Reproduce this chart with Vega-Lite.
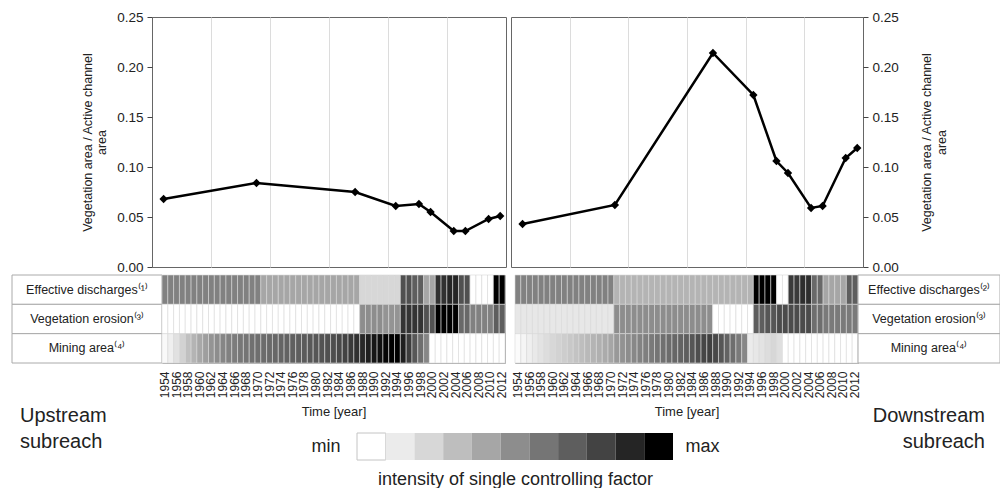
{
  "$schema": "https://vega.github.io/schema/vega-lite/v6.json",
  "padding": {"left": 0, "top": 9, "right": 0, "bottom": 0},
  "config": {
    "view": {"stroke": null},
    "font": "Liberation Sans",
    "axis": {"labelColor": "#222", "titleColor": "#222", "tickColor": "#444"},
    "title": {"color": "#222"}
  },
  "datasets": {
    "ul": [{"year":1954,"ratio":0.068},{"year":1970,"ratio":0.084},{"year":1987,"ratio":0.075},{"year":1994,"ratio":0.061},{"year":1998,"ratio":0.063},{"year":2000,"ratio":0.055},{"year":2004,"ratio":0.036},{"year":2006,"ratio":0.036},{"year":2010,"ratio":0.048},{"year":2012,"ratio":0.051}],
    "dl": [{"year":1954,"ratio":0.043},{"year":1970,"ratio":0.062},{"year":1987,"ratio":0.214},{"year":1994,"ratio":0.172},{"year":1998,"ratio":0.106},{"year":2000,"ratio":0.094},{"year":2004,"ratio":0.059},{"year":2006,"ratio":0.061},{"year":2010,"ratio":0.109},{"year":2012,"ratio":0.119}],
    "lblL": [{"k":"a","label":"Effective discharges⁽¹⁾"},{"k":"b","label":"Vegetation erosion⁽³⁾"},{"k":"c","label":"Mining area⁽⁴⁾"}],
    "lblR": [{"k":"a","label":"Effective discharges⁽²⁾"},{"k":"b","label":"Vegetation erosion⁽³⁾"},{"k":"c","label":"Mining area⁽⁴⁾"}],
    "lev": [{"level":0},{"level":1},{"level":2},{"level":3},{"level":4},{"level":5},{"level":6},{"level":7},{"level":8},{"level":9},{"level":10}],
    "hl": [
      {"yr":1954,"f":"a","v":5.5},{"yr":1955,"f":"a","v":5.5},{"yr":1956,"f":"a","v":5.5},{"yr":1957,"f":"a","v":5.5},{"yr":1958,"f":"a","v":5.5},{"yr":1959,"f":"a","v":5.5},{"yr":1960,"f":"a","v":5.5},{"yr":1961,"f":"a","v":5.5},{"yr":1962,"f":"a","v":5.5},{"yr":1963,"f":"a","v":5.5},{"yr":1964,"f":"a","v":5.5},{"yr":1965,"f":"a","v":5.5},{"yr":1966,"f":"a","v":5.5},{"yr":1967,"f":"a","v":5.5},{"yr":1968,"f":"a","v":5.5},{"yr":1969,"f":"a","v":5.5},{"yr":1970,"f":"a","v":5.5},
      {"yr":1971,"f":"a","v":4},{"yr":1972,"f":"a","v":4},{"yr":1973,"f":"a","v":4},{"yr":1974,"f":"a","v":4},{"yr":1975,"f":"a","v":4},{"yr":1976,"f":"a","v":4},{"yr":1977,"f":"a","v":4},{"yr":1978,"f":"a","v":4},{"yr":1979,"f":"a","v":4},{"yr":1980,"f":"a","v":4},{"yr":1981,"f":"a","v":4},{"yr":1982,"f":"a","v":4},{"yr":1983,"f":"a","v":4},{"yr":1984,"f":"a","v":4},{"yr":1985,"f":"a","v":4},{"yr":1986,"f":"a","v":4},{"yr":1987,"f":"a","v":4},
      {"yr":1988,"f":"a","v":2},{"yr":1989,"f":"a","v":2},{"yr":1990,"f":"a","v":2},{"yr":1991,"f":"a","v":2},{"yr":1992,"f":"a","v":2},{"yr":1993,"f":"a","v":2},{"yr":1994,"f":"a","v":2},
      {"yr":1995,"f":"a","v":7.5},{"yr":1996,"f":"a","v":7.5},{"yr":1997,"f":"a","v":7},{"yr":1998,"f":"a","v":7},{"yr":1999,"f":"a","v":4},{"yr":2000,"f":"a","v":4},{"yr":2001,"f":"a","v":8.6},{"yr":2002,"f":"a","v":8.6},{"yr":2003,"f":"a","v":9},{"yr":2004,"f":"a","v":9},{"yr":2005,"f":"a","v":7.5},{"yr":2006,"f":"a","v":7.5},{"yr":2007,"f":"a","v":0},{"yr":2008,"f":"a","v":0},{"yr":2009,"f":"a","v":0},{"yr":2010,"f":"a","v":0},{"yr":2011,"f":"a","v":10},{"yr":2012,"f":"a","v":10},
      {"yr":1954,"f":"b","v":0},{"yr":1955,"f":"b","v":0},{"yr":1956,"f":"b","v":0},{"yr":1957,"f":"b","v":0},{"yr":1958,"f":"b","v":0},{"yr":1959,"f":"b","v":0},{"yr":1960,"f":"b","v":0},{"yr":1961,"f":"b","v":0},{"yr":1962,"f":"b","v":0},{"yr":1963,"f":"b","v":0},{"yr":1964,"f":"b","v":0},{"yr":1965,"f":"b","v":0},{"yr":1966,"f":"b","v":0},{"yr":1967,"f":"b","v":0},{"yr":1968,"f":"b","v":0},{"yr":1969,"f":"b","v":0},{"yr":1970,"f":"b","v":0},{"yr":1971,"f":"b","v":0},{"yr":1972,"f":"b","v":0},{"yr":1973,"f":"b","v":0},{"yr":1974,"f":"b","v":0},{"yr":1975,"f":"b","v":0},{"yr":1976,"f":"b","v":0},{"yr":1977,"f":"b","v":0},{"yr":1978,"f":"b","v":0},{"yr":1979,"f":"b","v":0},{"yr":1980,"f":"b","v":0},{"yr":1981,"f":"b","v":0},{"yr":1982,"f":"b","v":0},{"yr":1983,"f":"b","v":0},{"yr":1984,"f":"b","v":0},{"yr":1985,"f":"b","v":0},{"yr":1986,"f":"b","v":0},{"yr":1987,"f":"b","v":0},
      {"yr":1988,"f":"b","v":5},{"yr":1989,"f":"b","v":5},{"yr":1990,"f":"b","v":5},{"yr":1991,"f":"b","v":5},{"yr":1992,"f":"b","v":4.7},{"yr":1993,"f":"b","v":4.7},{"yr":1994,"f":"b","v":4.7},
      {"yr":1995,"f":"b","v":8.5},{"yr":1996,"f":"b","v":8.5},{"yr":1997,"f":"b","v":8.5},{"yr":1998,"f":"b","v":8.5},{"yr":1999,"f":"b","v":7.4},{"yr":2000,"f":"b","v":7.4},{"yr":2001,"f":"b","v":10},{"yr":2002,"f":"b","v":10},{"yr":2003,"f":"b","v":10},{"yr":2004,"f":"b","v":10},{"yr":2005,"f":"b","v":6.5},{"yr":2006,"f":"b","v":6.5},{"yr":2007,"f":"b","v":5.5},{"yr":2008,"f":"b","v":5.5},{"yr":2009,"f":"b","v":5.5},{"yr":2010,"f":"b","v":5.5},{"yr":2011,"f":"b","v":7},{"yr":2012,"f":"b","v":7},
      {"yr":1954,"f":"c","v":0.3},{"yr":1955,"f":"c","v":0.8},{"yr":1956,"f":"c","v":1.5},{"yr":1957,"f":"c","v":2.2},{"yr":1958,"f":"c","v":2.9},{"yr":1959,"f":"c","v":3.4},{"yr":1960,"f":"c","v":3.9},{"yr":1961,"f":"c","v":4.3},{"yr":1962,"f":"c","v":4.7},{"yr":1963,"f":"c","v":5.0},{"yr":1964,"f":"c","v":5.3},{"yr":1965,"f":"c","v":5.5},{"yr":1966,"f":"c","v":5.7},{"yr":1967,"f":"c","v":5.9},{"yr":1968,"f":"c","v":6.0},{"yr":1969,"f":"c","v":6.2},{"yr":1970,"f":"c","v":6.3},{"yr":1971,"f":"c","v":6.4},{"yr":1972,"f":"c","v":6.5},{"yr":1973,"f":"c","v":6.6},{"yr":1974,"f":"c","v":6.7},{"yr":1975,"f":"c","v":6.8},{"yr":1976,"f":"c","v":6.9},{"yr":1977,"f":"c","v":7.0},{"yr":1978,"f":"c","v":7.1},{"yr":1979,"f":"c","v":7.2},{"yr":1980,"f":"c","v":7.3},{"yr":1981,"f":"c","v":7.4},{"yr":1982,"f":"c","v":7.5},{"yr":1983,"f":"c","v":7.6},{"yr":1984,"f":"c","v":7.8},{"yr":1985,"f":"c","v":8.0},{"yr":1986,"f":"c","v":8.3},{"yr":1987,"f":"c","v":8.6},{"yr":1988,"f":"c","v":8.9},{"yr":1989,"f":"c","v":9.2},{"yr":1990,"f":"c","v":9.5},{"yr":1991,"f":"c","v":9.7},{"yr":1992,"f":"c","v":9.9},{"yr":1993,"f":"c","v":10},{"yr":1994,"f":"c","v":10},{"yr":1995,"f":"c","v":9.2},{"yr":1996,"f":"c","v":8.2},{"yr":1997,"f":"c","v":7.2},{"yr":1998,"f":"c","v":6.3},{"yr":1999,"f":"c","v":5.3},
      {"yr":2000,"f":"c","v":0},{"yr":2001,"f":"c","v":0},{"yr":2002,"f":"c","v":0},{"yr":2003,"f":"c","v":0},{"yr":2004,"f":"c","v":0},{"yr":2005,"f":"c","v":0},{"yr":2006,"f":"c","v":0},{"yr":2007,"f":"c","v":0},{"yr":2008,"f":"c","v":0},{"yr":2009,"f":"c","v":0},{"yr":2010,"f":"c","v":0},{"yr":2011,"f":"c","v":0},{"yr":2012,"f":"c","v":0}
    ],
    "hr": [
      {"yr":1954,"f":"a","v":5.5},{"yr":1955,"f":"a","v":5.5},{"yr":1956,"f":"a","v":5.5},{"yr":1957,"f":"a","v":5.5},{"yr":1958,"f":"a","v":5.5},{"yr":1959,"f":"a","v":5.5},{"yr":1960,"f":"a","v":5.5},{"yr":1961,"f":"a","v":5.5},{"yr":1962,"f":"a","v":5.5},{"yr":1963,"f":"a","v":5.5},{"yr":1964,"f":"a","v":5.5},{"yr":1965,"f":"a","v":5.5},{"yr":1966,"f":"a","v":5.5},{"yr":1967,"f":"a","v":5.5},{"yr":1968,"f":"a","v":5.5},{"yr":1969,"f":"a","v":5.5},{"yr":1970,"f":"a","v":5.5},
      {"yr":1971,"f":"a","v":3.4},{"yr":1972,"f":"a","v":3.4},{"yr":1973,"f":"a","v":3.4},{"yr":1974,"f":"a","v":3.4},{"yr":1975,"f":"a","v":3.4},{"yr":1976,"f":"a","v":3.4},{"yr":1977,"f":"a","v":3.4},{"yr":1978,"f":"a","v":3.4},{"yr":1979,"f":"a","v":3.4},{"yr":1980,"f":"a","v":3.4},{"yr":1981,"f":"a","v":3.4},{"yr":1982,"f":"a","v":3.4},{"yr":1983,"f":"a","v":3.4},{"yr":1984,"f":"a","v":3.4},{"yr":1985,"f":"a","v":3.4},{"yr":1986,"f":"a","v":3.4},{"yr":1987,"f":"a","v":3.4},{"yr":1988,"f":"a","v":3.4},{"yr":1989,"f":"a","v":3.4},{"yr":1990,"f":"a","v":3.4},{"yr":1991,"f":"a","v":3.4},{"yr":1992,"f":"a","v":3.4},{"yr":1993,"f":"a","v":3.4},{"yr":1994,"f":"a","v":3.4},
      {"yr":1995,"f":"a","v":10},{"yr":1996,"f":"a","v":10},{"yr":1997,"f":"a","v":10},{"yr":1998,"f":"a","v":10},{"yr":1999,"f":"a","v":0},{"yr":2000,"f":"a","v":0},{"yr":2001,"f":"a","v":8.3},{"yr":2002,"f":"a","v":8.3},{"yr":2003,"f":"a","v":8.7},{"yr":2004,"f":"a","v":8.7},{"yr":2005,"f":"a","v":6.5},{"yr":2006,"f":"a","v":6.5},{"yr":2007,"f":"a","v":4},{"yr":2008,"f":"a","v":4},{"yr":2009,"f":"a","v":4},{"yr":2010,"f":"a","v":4},{"yr":2011,"f":"a","v":7},{"yr":2012,"f":"a","v":7},
      {"yr":1954,"f":"b","v":1.2},{"yr":1955,"f":"b","v":1.2},{"yr":1956,"f":"b","v":1.2},{"yr":1957,"f":"b","v":1.2},{"yr":1958,"f":"b","v":1.2},{"yr":1959,"f":"b","v":1.2},{"yr":1960,"f":"b","v":1.2},{"yr":1961,"f":"b","v":1.2},{"yr":1962,"f":"b","v":1.2},{"yr":1963,"f":"b","v":1.2},{"yr":1964,"f":"b","v":1.2},{"yr":1965,"f":"b","v":1.2},{"yr":1966,"f":"b","v":1.2},{"yr":1967,"f":"b","v":1.2},{"yr":1968,"f":"b","v":1.2},{"yr":1969,"f":"b","v":1.2},{"yr":1970,"f":"b","v":1.2},
      {"yr":1971,"f":"b","v":5},{"yr":1972,"f":"b","v":5},{"yr":1973,"f":"b","v":5},{"yr":1974,"f":"b","v":5},{"yr":1975,"f":"b","v":5},{"yr":1976,"f":"b","v":5},{"yr":1977,"f":"b","v":5},{"yr":1978,"f":"b","v":5},{"yr":1979,"f":"b","v":5},{"yr":1980,"f":"b","v":5},{"yr":1981,"f":"b","v":5},{"yr":1982,"f":"b","v":5},{"yr":1983,"f":"b","v":5},{"yr":1984,"f":"b","v":5},{"yr":1985,"f":"b","v":5},{"yr":1986,"f":"b","v":5},{"yr":1987,"f":"b","v":5},
      {"yr":1988,"f":"b","v":0},{"yr":1989,"f":"b","v":0},{"yr":1990,"f":"b","v":0},{"yr":1991,"f":"b","v":0},{"yr":1992,"f":"b","v":0},{"yr":1993,"f":"b","v":0},{"yr":1994,"f":"b","v":0},
      {"yr":1995,"f":"b","v":7},{"yr":1996,"f":"b","v":7},{"yr":1997,"f":"b","v":7.3},{"yr":1998,"f":"b","v":7.3},{"yr":1999,"f":"b","v":7.7},{"yr":2000,"f":"b","v":7.7},{"yr":2001,"f":"b","v":7.7},{"yr":2002,"f":"b","v":7.7},{"yr":2003,"f":"b","v":7.7},{"yr":2004,"f":"b","v":7.7},{"yr":2005,"f":"b","v":6.3},{"yr":2006,"f":"b","v":6.3},{"yr":2007,"f":"b","v":5.8},{"yr":2008,"f":"b","v":5.8},{"yr":2009,"f":"b","v":5.8},{"yr":2010,"f":"b","v":5.8},{"yr":2011,"f":"b","v":5.8},{"yr":2012,"f":"b","v":5.8},
      {"yr":1954,"f":"c","v":0.2},{"yr":1955,"f":"c","v":0.5},{"yr":1956,"f":"c","v":0.8},{"yr":1957,"f":"c","v":1.1},{"yr":1958,"f":"c","v":1.4},{"yr":1959,"f":"c","v":1.7},{"yr":1960,"f":"c","v":2.0},{"yr":1961,"f":"c","v":2.2},{"yr":1962,"f":"c","v":2.4},{"yr":1963,"f":"c","v":2.6},{"yr":1964,"f":"c","v":2.8},{"yr":1965,"f":"c","v":3.0},{"yr":1966,"f":"c","v":3.2},{"yr":1967,"f":"c","v":3.4},{"yr":1968,"f":"c","v":3.6},{"yr":1969,"f":"c","v":3.8},{"yr":1970,"f":"c","v":4.0},{"yr":1971,"f":"c","v":4.5},{"yr":1972,"f":"c","v":4.8},{"yr":1973,"f":"c","v":5.0},{"yr":1974,"f":"c","v":5.2},{"yr":1975,"f":"c","v":5.4},{"yr":1976,"f":"c","v":5.6},{"yr":1977,"f":"c","v":5.8},{"yr":1978,"f":"c","v":6.0},{"yr":1979,"f":"c","v":6.2},{"yr":1980,"f":"c","v":6.4},{"yr":1981,"f":"c","v":6.6},{"yr":1982,"f":"c","v":6.8},{"yr":1983,"f":"c","v":7.0},{"yr":1984,"f":"c","v":7.3},{"yr":1985,"f":"c","v":7.6},{"yr":1986,"f":"c","v":7.9},{"yr":1987,"f":"c","v":8.1},{"yr":1988,"f":"c","v":7.8},{"yr":1989,"f":"c","v":7.3},{"yr":1990,"f":"c","v":6.8},{"yr":1991,"f":"c","v":6.3},{"yr":1992,"f":"c","v":5.8},{"yr":1993,"f":"c","v":5.3},{"yr":1994,"f":"c","v":1.0},{"yr":1995,"f":"c","v":1.2},{"yr":1996,"f":"c","v":1.4},{"yr":1997,"f":"c","v":1.7},{"yr":1998,"f":"c","v":2.0},{"yr":1999,"f":"c","v":1.6},
      {"yr":2000,"f":"c","v":0},{"yr":2001,"f":"c","v":0},{"yr":2002,"f":"c","v":0},{"yr":2003,"f":"c","v":0},{"yr":2004,"f":"c","v":0},{"yr":2005,"f":"c","v":0},{"yr":2006,"f":"c","v":0},{"yr":2007,"f":"c","v":0},{"yr":2008,"f":"c","v":0},{"yr":2009,"f":"c","v":0},{"yr":2010,"f":"c","v":0},{"yr":2011,"f":"c","v":0},{"yr":2012,"f":"c","v":0}
    ]
  },
  "spacing": 6,
  "vconcat": [
    {
      "spacing": 0,
      "vconcat": [
        {
          "spacing": 0,
          "bounds": "flush",
          "hconcat": [
            {"width": 152, "height": 250, "data": {"values": []}, "mark": "rect", "encoding": {}},
            {
              "width": 354, "height": 250,
              "data": {"name": "ul"},
              "view": {"stroke": "#666", "strokeWidth": 1},
              "encoding": {
                "x": {"field": "year", "type": "quantitative", "scale": {"domain": [1952, 2013], "nice": false, "zero": false},
                      "axis": {"values": [1962.1667, 1972.3333, 1982.5, 1992.6667, 2002.8333], "grid": true, "gridColor": "#dcdcdc", "labels": false, "ticks": false, "domain": false, "title": null}},
                "y": {"field": "ratio", "type": "quantitative", "scale": {"domain": [0, 0.25], "nice": false},
                      "axis": {"values": [0, 0.05, 0.1, 0.15, 0.2, 0.25], "format": ".2f", "grid": false, "domain": false, "tickSize": 5, "labelFontSize": 13.5, "labelPadding": 4,
                               "title": ["Vegetation area / Active channel", "area"], "titleFontSize": 12.5, "titleFontWeight": "normal", "titlePadding": 8}}
              },
              "layer": [
                {"mark": {"type": "line", "color": "black", "strokeWidth": 2.5}},
                {"mark": {"type": "point", "shape": "diamond", "filled": true, "color": "black", "size": 70, "opacity": 1}}
              ]
            },
            {"width": 5, "height": 250, "data": {"values": []}, "mark": "rect", "encoding": {}},
            {
              "width": 352, "height": 250,
              "data": {"name": "dl"},
              "view": {"stroke": "#666", "strokeWidth": 1},
              "encoding": {
                "x": {"field": "year", "type": "quantitative", "scale": {"domain": [1952, 2013], "nice": false, "zero": false},
                      "axis": {"values": [1962.1667, 1972.3333, 1982.5, 1992.6667, 2002.8333], "grid": true, "gridColor": "#dcdcdc", "labels": false, "ticks": false, "domain": false, "title": null}},
                "y": {"field": "ratio", "type": "quantitative", "scale": {"domain": [0, 0.25], "nice": false},
                      "axis": {"orient": "right", "values": [0, 0.05, 0.1, 0.15, 0.2, 0.25], "format": ".2f", "grid": false, "domain": false, "tickSize": 5, "labelFontSize": 13.5, "labelPadding": 4,
                               "title": ["Vegetation area / Active channel", "area"], "titleAngle": 270, "titleBaseline": "top", "titleFontSize": 12.5, "titleFontWeight": "normal", "titlePadding": 8}}
              },
              "layer": [
                {"mark": {"type": "line", "color": "black", "strokeWidth": 2.5}},
                {"mark": {"type": "point", "shape": "diamond", "filled": true, "color": "black", "size": 70, "opacity": 1}}
              ]
            }
          ]
        },
        {
          "spacing": 0,
          "bounds": "flush",
          "hconcat": [
            {"width": 12, "height": 88, "data": {"values": []}, "mark": "rect", "encoding": {}},
            {
              "width": 150, "height": 88,
              "data": {"name": "lblL"},
              "layer": [
                {"mark": {"type": "rect", "fill": "white", "stroke": "#aaa", "strokeWidth": 1},
                 "encoding": {"y": {"field": "k", "type": "nominal", "scale": {"paddingInner": 0, "paddingOuter": 0}, "axis": null}}},
                {"mark": {"type": "text", "fontSize": 12.5, "color": "#222"},
                 "encoding": {"y": {"field": "k", "type": "nominal", "axis": null}, "text": {"field": "label"}}}
              ]
            },
            {
              "width": 343, "height": 88,
              "data": {"name": "hl"},
              "view": {"stroke": "#aaa"},
              "mark": {"type": "rect", "stroke": "#d8d8d8", "strokeWidth": 0.6},
              "encoding": {
                "x": {"field": "yr", "type": "ordinal", "scale": {"paddingInner": 0, "paddingOuter": 0},
                      "axis": {"values": [1954,1956,1958,1960,1962,1964,1966,1968,1970,1972,1974,1976,1978,1980,1982,1984,1986,1988,1990,1992,1994,1996,1998,2000,2002,2004,2006,2008,2010,2012],
                               "labelAngle": -90, "labelFontSize": 12, "labelPadding": 8, "ticks": false, "domain": false, "title": null}},
                "y": {"field": "f", "type": "nominal", "scale": {"paddingInner": 0, "paddingOuter": 0}, "axis": null},
                "color": {"field": "v", "type": "quantitative", "legend": null,
                          "scale": {"domain": [0,1,2,3,4,5,6,7,8,9,10], "range": ["#ffffff","#ebebeb","#d7d7d7","#bebebe","#a6a6a6","#8d8d8d","#757575","#5e5e5e","#434343","#252525","#000000"]}}
              }
            },
            {"width": 10, "height": 88, "data": {"values": []}, "mark": "rect", "encoding": {}},
            {
              "width": 343, "height": 88,
              "data": {"name": "hr"},
              "view": {"stroke": "#aaa"},
              "mark": {"type": "rect", "stroke": "#d8d8d8", "strokeWidth": 0.6},
              "encoding": {
                "x": {"field": "yr", "type": "ordinal", "scale": {"paddingInner": 0, "paddingOuter": 0},
                      "axis": {"values": [1954,1956,1958,1960,1962,1964,1966,1968,1970,1972,1974,1976,1978,1980,1982,1984,1986,1988,1990,1992,1994,1996,1998,2000,2002,2004,2006,2008,2010,2012],
                               "labelAngle": -90, "labelFontSize": 12, "labelPadding": 8, "ticks": false, "domain": false, "title": null}},
                "y": {"field": "f", "type": "nominal", "scale": {"paddingInner": 0, "paddingOuter": 0}, "axis": null},
                "color": {"field": "v", "type": "quantitative", "legend": null,
                          "scale": {"domain": [0,1,2,3,4,5,6,7,8,9,10], "range": ["#ffffff","#ebebeb","#d7d7d7","#bebebe","#a6a6a6","#8d8d8d","#757575","#5e5e5e","#434343","#252525","#000000"]}}
              }
            },
            {
              "width": 142, "height": 88,
              "data": {"name": "lblR"},
              "layer": [
                {"mark": {"type": "rect", "fill": "white", "stroke": "#aaa", "strokeWidth": 1},
                 "encoding": {"y": {"field": "k", "type": "nominal", "scale": {"paddingInner": 0, "paddingOuter": 0}, "axis": null}}},
                {"mark": {"type": "text", "fontSize": 12.5, "color": "#222"},
                 "encoding": {"y": {"field": "k", "type": "nominal", "axis": null}, "text": {"field": "label"}}}
              ]
            }
          ]
        }
      ]
    },
    {
      "spacing": 0,
      "bounds": "flush",
      "hconcat": [
        {
          "width": 40, "height": 38,
          "data": {"values": [{"reach": "Upstream subreach"}]},
          "mark": {"type": "text", "align": "left", "baseline": "bottom", "dy": -26, "fontSize": 20, "lineHeight": 26, "lineBreak": " ", "color": "#222"},
          "encoding": {"text": {"field": "reach"}}
        },
        {"width": 317, "height": 27, "data": {"values": []}, "mark": "rect", "encoding": {}},
        {
          "width": 316, "height": 27,
          "data": {"name": "lev"},
          "layer": [
            {"mark": {"type": "rect", "strokeWidth": 1},
             "encoding": {
               "x": {"field": "level", "type": "ordinal", "scale": {"paddingInner": 0, "paddingOuter": 0},
                     "axis": {"orient": "bottom", "labels": false, "ticks": false, "domain": false, "title": "intensity of single controlling factor", "titleFontSize": 18, "titleFontWeight": "normal", "titlePadding": 10}},
               "y": {"datum": "g", "type": "nominal", "scale": {"paddingInner": 0, "paddingOuter": 0},
                     "axis": {"labels": false, "ticks": false, "domain": false, "title": "min", "titleAngle": 0, "titleAlign": "right", "titleBaseline": "middle", "titleX": -17, "titleY": 13.5, "titleFontSize": 18, "titleFontWeight": "normal"}},
               "color": {"field": "level", "type": "quantitative", "legend": null,
                         "scale": {"domain": [0,1,2,3,4,5,6,7,8,9,10], "range": ["#ffffff","#ebebeb","#d7d7d7","#bebebe","#a6a6a6","#8d8d8d","#757575","#5e5e5e","#434343","#252525","#000000"]}},
               "stroke": {"condition": {"test": "datum.level === 0", "value": "#c4c4c4"}, "value": "transparent"}
             }},
            {"mark": {"type": "rect", "opacity": 0},
             "encoding": {
               "x": {"field": "level", "type": "ordinal", "scale": {"paddingInner": 0, "paddingOuter": 0},
                     "axis": {"orient": "top", "labels": false, "ticks": false, "domain": false, "title": "Time [year]", "titleX": -23.5, "titleY": -22, "titleAlign": "center", "titleBaseline": "middle", "titleFontSize": 13, "titleFontWeight": "normal"}},
               "y": {"datum": "g", "type": "nominal", "scale": {"paddingInner": 0, "paddingOuter": 0},
                     "axis": {"orient": "right", "labels": false, "ticks": false, "domain": false, "title": "max", "titleAngle": 0, "titleAlign": "left", "titleBaseline": "middle", "titleX": 12, "titleY": 13.5, "titleFontSize": 18, "titleFontWeight": "normal"}}
             }},
            {"mark": {"type": "rect", "opacity": 0},
             "encoding": {
               "x": {"field": "level", "type": "ordinal", "scale": {"paddingInner": 0, "paddingOuter": 0},
                     "axis": {"orient": "top", "labels": false, "ticks": false, "domain": false, "title": "Time [year]", "titleX": 329.5, "titleY": -22, "titleAlign": "center", "titleBaseline": "middle", "titleFontSize": 13, "titleFontWeight": "normal"}}
             }}
          ],
          "resolve": {"scale": {"y": "independent"}, "axis": {"x": "independent"}}
        },
        {"width": 297, "height": 27, "data": {"values": []}, "mark": "rect", "encoding": {}},
        {
          "width": 30, "height": 38,
          "data": {"values": [{"reach": "Downstream subreach"}]},
          "mark": {"type": "text", "align": "right", "baseline": "bottom", "dy": -26, "fontSize": 20, "lineHeight": 26, "lineBreak": " ", "color": "#222"},
          "encoding": {"text": {"field": "reach"}}
        }
      ]
    }
  ]
}
